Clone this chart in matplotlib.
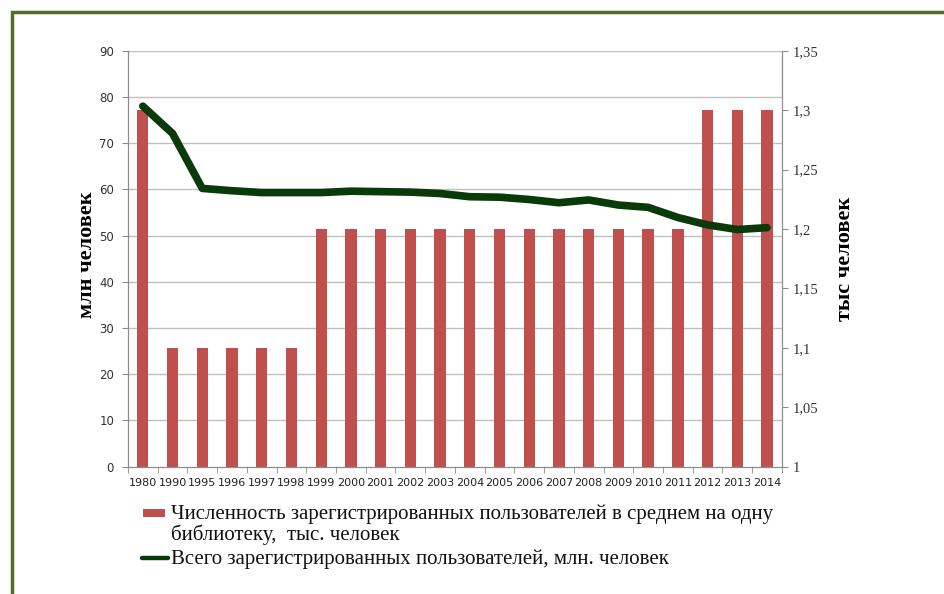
import numpy as np
import matplotlib.pyplot as plt
from matplotlib.patches import Rectangle
from matplotlib.lines import Line2D

years = ["1980", "1990", "1995", "1996", "1997", "1998", "1999", "2000", "2001", "2002", "2003",
         "2004", "2005", "2006", "2007", "2008", "2009", "2010", "2011", "2012", "2013", "2014"]
# в среднем на одну библиотеку, тыс. человек (правая ось)
per_library = [1.3, 1.1, 1.1, 1.1, 1.1, 1.1, 1.2, 1.2, 1.2, 1.2, 1.2,
               1.2, 1.2, 1.2, 1.2, 1.2, 1.2, 1.2, 1.2, 1.3, 1.3, 1.3]
# всего пользователей, млн. человек (левая ось)
total_users = [78.0, 72.1, 60.2, 59.7, 59.3, 59.3, 59.3, 59.6, 59.5, 59.4, 59.1,
               58.4, 58.3, 57.8, 57.1, 57.7, 56.6, 56.1, 53.9, 52.3, 51.3, 51.7]

left_ticks = [0, 10, 20, 30, 40, 50, 60, 70, 80, 90]
right_ticks = [1, 1.05, 1.1, 1.15, 1.2, 1.25, 1.3, 1.35]
right_labels = ["1", "1,05", "1,1", "1,15", "1,2", "1,25", "1,3", "1,35"]

bar_label = "Численность зарегистрированных пользователей в среднем на одну\nбиблиотеку,  тыс. человек"
line_label = "Всего зарегистрированных пользователей, млн. человек"

bar_color = "#C0504D"
line_color = "#0A3A0A"
axis_gray = "#8C8C8C"

W, H = 945, 594
fig = plt.figure(figsize=(W / 100, H / 100), dpi=100)
fig.patch.set_facecolor("white")
ax = fig.add_axes([0.1354, 0.2146, 0.692, 0.70])
ax2 = ax.twinx()

x = np.arange(len(years))

# bars on the right axis, drawn behind the line
ax2.bar(x, per_library, width=0.38, color=bar_color, zorder=2)
ax2.set_ylim(1, 1.35)
ax2.set_yticks(right_ticks)
ax2.set_yticklabels(right_labels, family="Liberation Serif", fontsize=10.5, color="#333333")
ax2.set_ylabel("тыс человек", family="Liberation Serif", fontsize=16, fontweight="bold")
ax2.yaxis.set_label_coords(1.081, 0.5)

# line on the left axis
ax.set_zorder(ax2.get_zorder() + 1)
ax.patch.set_visible(False)
ax.plot(x, total_users, color=line_color, linewidth=5.5, solid_capstyle="round",
        solid_joinstyle="round", zorder=5)
ax.set_ylim(0, 90)
ax.set_yticks(left_ticks)
ax.set_yticklabels([str(t) for t in left_ticks], family="DejaVu Sans", fontsize=8.5, color="#333333")
ax.set_ylabel("млн человек", family="Liberation Serif", fontsize=16, fontweight="bold")
ax.yaxis.set_label_coords(-0.047, 0.51)
ax.set_xlim(-0.5, len(years) - 0.5)
ax.set_xticks(x)
ax.set_xticklabels(years, family="DejaVu Sans", fontsize=8, color="#222222")
ax.set_xticks(np.arange(-0.5, len(years)), minor=True)
ax.tick_params(axis="x", which="major", length=0, pad=8)
ax.tick_params(axis="x", which="minor", length=4, color=axis_gray)
ax.tick_params(axis="y", length=4, color=axis_gray, pad=6)
ax2.tick_params(axis="y", length=4, color=axis_gray, pad=4)

# horizontal gridlines on left-axis ticks
for t in left_ticks[1:]:
    ax2.axhline(1 + t / 90 * 0.35, color="#BFBFBF", linewidth=1, zorder=1)

for a in (ax, ax2):
    a.spines["top"].set_visible(False)
    for s in ("left", "right", "bottom"):
        a.spines[s].set_color(axis_gray)

# legend, drawn by hand so the red key sits on the first text line
fig.patches.append(Rectangle((143 / W, 1 - 517 / H), 22 / W, 8 / H, transform=fig.transFigure,
                             facecolor=bar_color, edgecolor="none"))
fig.lines.append(Line2D([142 / W, 168 / W], [1 - 558 / H] * 2, transform=fig.transFigure,
                        color=line_color, linewidth=3.2, solid_capstyle="round"))
fig.text(171 / W, 1 - 505 / H, bar_label, ha="left", va="top", family="Liberation Serif",
         fontsize=15, linespacing=1.0, color="#111111")
fig.text(171 / W, 1 - 559 / H, line_label, ha="left", va="center", family="Liberation Serif",
         fontsize=15, color="#111111")

# frame around the slide
fig.patches.append(Rectangle((12 / W, -0.1), 1.2, 1 - 12 / H + 0.1, transform=fig.transFigure,
                             fill=False, edgecolor="#556B2F", linewidth=2.5, clip_on=False))

fig.savefig("out.png", dpi=100)
